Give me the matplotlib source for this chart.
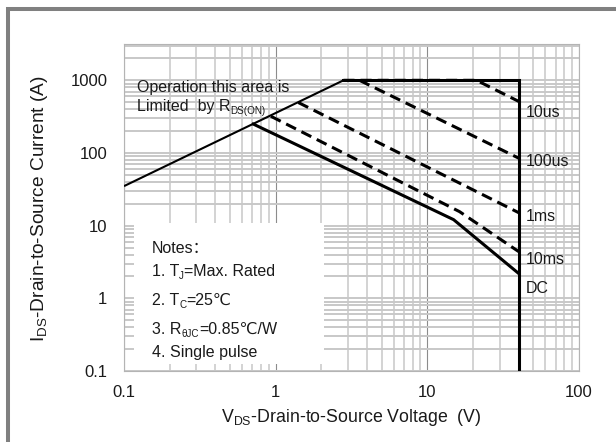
import matplotlib
matplotlib.use("Agg")
import matplotlib.pyplot as plt
from matplotlib.patches import Rectangle
from matplotlib.ticker import FixedLocator, FixedFormatter, LogLocator, NullFormatter

FAMILY = ['Liberation Sans', 'DejaVu Sans', 'Noto Sans CJK SC']
plt.rcParams['font.family'] = FAMILY
plt.rcParams['mathtext.fontset'] = 'custom'
plt.rcParams['mathtext.rm'] = 'Liberation Sans'
plt.rcParams['mathtext.it'] = 'Liberation Sans:italic'
plt.rcParams['mathtext.bf'] = 'Liberation Sans:bold'

# ---- axis ticks ----
x_ticks = [0.1, 1, 10, 100]
x_tick_labels = ['0.1', '1', '10', '100']
y_ticks = [0.1, 1, 10, 100, 1000]
y_tick_labels = ['0.1', '1', '10', '100', '1000']

# ---- safe operating area boundaries (V, A) ----
rdson_v = [0.1, 2.8]
rdson_i = [35, 1000]
limit_v = [2.8, 40, 40]
limit_i = [1000, 1000, 0.1]
us10_v = [2.8, 21.1, 40]
us10_i = [1000, 1000, 513]
us100_v = [3.57, 40]
us100_i = [1000, 85]
ms1_v = [1.41, 40]
ms1_i = [495, 15.1]
ms10_v = [0.93, 16.3, 40]
ms10_i = [320, 15.6, 4.4]
dc_v = [0.712, 14.9, 40]
dc_i = [250, 12.1, 2.2]

curve_labels = ['10us', '100us', '1ms', '10ms', 'DC']
curve_label_v = 44.7
curve_label_i = [315, 66.6, 11.6, 2.96, 1.18]

TEXT = '#1a1a1a'


def rich_text(ax, x, y, parts, size, sub_scale=0.62, sub_drop=0.2):
    """Draw a run of text pieces left to right; pieces flagged True are subscripts."""
    prev = None
    for s, is_sub in parts:
        fs = size * sub_scale if is_sub else size
        dy = -sub_drop * size if is_sub else 0
        if prev is None:
            prev = ax.text(x, y, s, fontsize=fs, ha='left', va='baseline',
                           color=TEXT, family=FAMILY, zorder=5)
        else:
            prev = ax.annotate(s, xy=(1, y), xycoords=(prev, 'data'),
                               xytext=(0, dy), textcoords='offset points',
                               fontsize=fs, ha='left', va='baseline',
                               color=TEXT, family=FAMILY, zorder=5)
    return prev


fig = plt.figure(figsize=(6.16, 4.42), dpi=100)
fig.patch.set_facecolor('white')
ax = fig.add_axes([124 / 616, 1 - 371 / 442, 455 / 616, 327 / 442])

ax.set_xscale('log')
ax.set_yscale('log')
ax.set_xlim(0.1, 100)
ax.set_ylim(0.1, 3160)

ax.xaxis.set_major_locator(FixedLocator(x_ticks))
ax.xaxis.set_major_formatter(FixedFormatter(x_tick_labels))
ax.yaxis.set_major_locator(FixedLocator(y_ticks))
ax.yaxis.set_major_formatter(FixedFormatter(y_tick_labels))
ax.xaxis.set_minor_locator(LogLocator(base=10, subs=range(2, 10)))
ax.yaxis.set_minor_locator(LogLocator(base=10, subs=range(2, 10)))
ax.xaxis.set_minor_formatter(NullFormatter())
ax.yaxis.set_minor_formatter(NullFormatter())

ax.tick_params(which='both', length=0, labelsize=12, labelcolor=TEXT)
ax.tick_params(axis='x', pad=10)
ax.tick_params(axis='y', pad=12)

ax.set_axisbelow(True)
ax.grid(which='both', axis='y', color='#c8c8c8', lw=1.4)
ax.grid(which='minor', axis='x', color='#c8c8c8', lw=1.1)
ax.grid(which='major', axis='x', color='#8c8c8c', lw=0.8)
for sp in ax.spines.values():
    sp.set_color('#b4b4b4')
    sp.set_linewidth(0.8)

# notes panel masks the grid
ax.add_patch(Rectangle((0.116, 0.124), 2.07 - 0.116, 10.9 - 0.124,
                       facecolor='white', edgecolor='none', zorder=1))

# boundaries
ax.plot(rdson_v, rdson_i, color='black', lw=1.5, zorder=3, solid_capstyle='butt')
ax.plot(limit_v, limit_i, color='black', lw=2.2, zorder=3, solid_joinstyle='miter')
ax.plot(dc_v, dc_i, color='black', lw=2.2, zorder=3)
dash = (3.6, 2.0)
for v, i in [(us10_v, us10_i), (us100_v, us100_i), (ms1_v, ms1_i), (ms10_v, ms10_i)]:
    ax.plot(v, i, color='black', lw=2.2, ls=(0, dash), zorder=3)

for lab, yi in zip(curve_labels, curve_label_i):
    ax.text(curve_label_v, yi, lab, fontsize=11.5, ha='left', va='baseline',
            color=TEXT, zorder=5)

rich_text(ax, 0.1213, 698, [('Operation this area is', False)], 11.5)
rich_text(ax, 0.1213, 381, [('Limited  by R', False), ('DS(ON)', True)], 11.5)

rich_text(ax, 0.153, 4.2, [('Notes：', False)], 11.5)
rich_text(ax, 0.153, 2.02, [('1. T', False), ('J', True), ('=Max. Rated', False)], 11.5)
rich_text(ax, 0.153, 0.805, [('2. T', False), ('C', True), ('=25℃', False)], 11.5)
rich_text(ax, 0.153, 0.321, [('3. R', False), ('θJC', True), ('=0.85℃/W', False)], 11.5)
rich_text(ax, 0.153, 0.1545, [('4. Single pulse', False)], 11.5)

ax.set_xlabel(r'V$_{\mathregular{DS}}$-Drain-to-Source Voltage  (V)', fontsize=12.8,
              color=TEXT, va='center')
ax.xaxis.set_label_coords(0.5, (371 - 418) / 327)
ax.set_ylabel(r'I$_{\mathregular{DS}}$-Drain-to-Source Current (A)', fontsize=13.8,
              color=TEXT, va='center')
ax.yaxis.set_label_coords((40 - 124) / 455, (371 - 209) / 327)

# outer frame
fig.add_artist(Rectangle((8 / 616, -1), 2, 1 + (1 - 9 / 442), fill=False,
                         edgecolor='#808080', lw=2.9, transform=fig.transFigure))

fig.savefig('out.png', dpi=100)
